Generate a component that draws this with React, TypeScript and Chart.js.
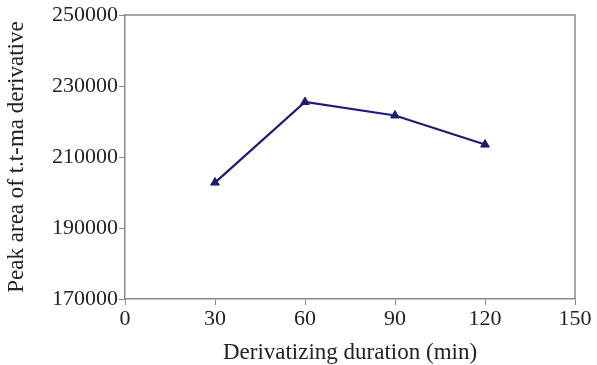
import React, { useEffect, useRef } from "react";
import { Chart, registerables } from "chart.js";

Chart.register(...registerables);

const durations = [30, 60, 90, 120];
const peakAreas = [202800, 225500, 221700, 213500];
const xTicks = [0, 30, 60, 90, 120, 150];
const yTicks = [170000, 190000, 210000, 230000, 250000];

const FONT = "'Liberation Serif', 'Times New Roman', serif";

const framePlugin = {
  id: "frame",
  afterDraw(chart: any) {
    const { ctx, chartArea } = chart;
    ctx.save();
    ctx.strokeStyle = "#8a8a8a";
    ctx.lineWidth = 1.5;
    ctx.beginPath();
    ctx.moveTo(chartArea.left, chartArea.top);
    ctx.lineTo(chartArea.right, chartArea.top);
    ctx.lineTo(chartArea.right, chartArea.bottom);
    ctx.stroke();
    ctx.restore();
  },
};

export default function App() {
  const ref = useRef<HTMLCanvasElement>(null);
  useEffect(() => {
    document.body.style.margin = "0";
    const chart = new Chart(ref.current!, {
      type: "line",
      data: {
        datasets: [
          {
            data: durations.map((d, i) => ({ x: d, y: peakAreas[i] })),
            borderColor: "#1c1c78",
            backgroundColor: "#1c1c78",
            borderWidth: 2.2,
            pointStyle: "triangle",
            pointRadius: 5,
            pointBorderWidth: 1,
            tension: 0,
          },
        ],
      },
      options: {
        animation: false,
        responsive: false,
        layout: { padding: { top: 15, right: 22, left: 0, bottom: 0 } },
        plugins: { legend: { display: false }, tooltip: { enabled: false } },
        scales: {
          x: {
            type: "linear",
            min: 0,
            max: 150,
            afterBuildTicks: (s: any) => {
              s.ticks = xTicks.map((v) => ({ value: v }));
            },
            afterFit: (s: any) => {
              s.height = 66;
            },
            grid: {
              drawOnChartArea: false,
              drawTicks: true,
              tickLength: 6,
              tickColor: "#8a8a8a",
            },
            border: { color: "#8a8a8a", width: 1.5 },
            ticks: {
              color: "#222",
              font: { family: FONT, size: 22 },
              padding: 1,
              maxRotation: 0,
            },
            title: {
              display: true,
              text: "Derivatizing duration (min)",
              color: "#222",
              font: { family: FONT, size: 23 },
              padding: { top: 0, bottom: -2 },
            },
          },
          y: {
            type: "linear",
            min: 170000,
            max: 250000,
            afterBuildTicks: (s: any) => {
              s.ticks = yTicks.map((v) => ({ value: v }));
            },
            afterFit: (s: any) => {
              s.width = 125;
            },
            grid: {
              drawOnChartArea: false,
              drawTicks: true,
              tickLength: 6,
              tickColor: "#8a8a8a",
            },
            border: { color: "#8a8a8a", width: 1.5 },
            ticks: {
              color: "#222",
              font: { family: FONT, size: 22 },
              padding: 1,
              callback: (v: any) => String(v),
            },
            title: {
              display: true,
              text: "Peak area of t.t-ma derivative",
              color: "#222",
              font: { family: FONT, size: 23 },
              padding: { top: 3, bottom: 0 },
            },
          },
        },
      },
      plugins: [framePlugin],
    } as any);
    return () => chart.destroy();
  }, []);
  return (
    <div style={{ width: 597, height: 365 }}>
      <canvas ref={ref} width={597} height={365} style={{ display: "block" }} />
    </div>
  );
}
